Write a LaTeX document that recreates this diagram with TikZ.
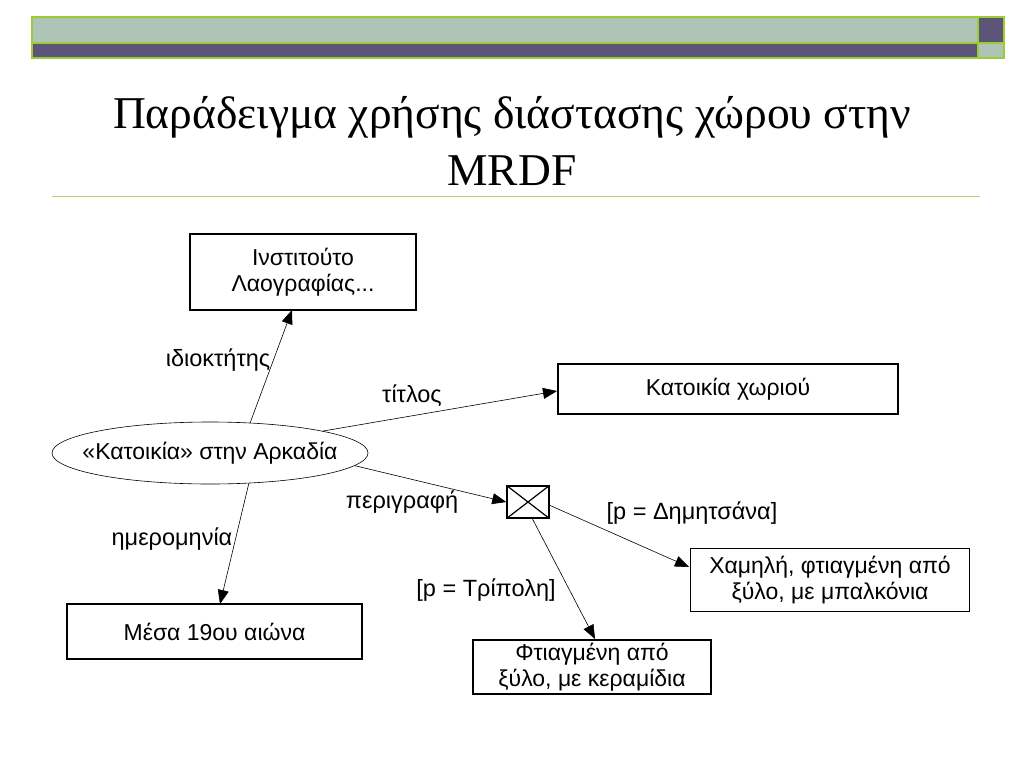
\documentclass[tikz,border=0pt]{standalone}
\usepackage{fontspec}
\setmainfont{Liberation Serif}
\newfontfamily\diagfont{Liberation Sans}
\usetikzlibrary{shapes.geometric,arrows.meta}
\definecolor{bannerlight}{HTML}{AFC4B7}
\definecolor{bannerdark}{HTML}{5C5479}
\definecolor{bannergreen}{HTML}{9ACD32}
\definecolor{rulegreen}{HTML}{B5D56A}
\begin{document}
\begin{tikzpicture}[x=1pt,y=-1pt,
  box/.style={draw,line width=1.3pt,minimum width=#1,inner sep=0pt,align=center,font=\diagfont\fontsize{23}{26}\selectfont},
  lbl/.style={font=\diagfont\fontsize{23.5}{28}\selectfont,inner sep=0pt},
  conn/.style={line width=0.6pt,-{Triangle[length=14pt,width=11pt]}},
  ttl/.style={font=\fontsize{45.5}{58}\selectfont,inner sep=0pt,anchor=base}]
\useasboundingbox (0,0) rectangle (1024,768);
% banner
\fill[bannerlight] (32,17) rectangle (978,43);
\fill[bannerdark] (978,17) rectangle (1004,43);
\fill[bannerdark] (32,43) rectangle (978,58);
\fill[bannerlight] (978,43) rectangle (1004,58);
\draw[bannergreen,line width=1.2pt] (32,17) rectangle (1004,58);
\draw[bannergreen,line width=1.2pt] (32,43) -- (1004,43);
\draw[bannergreen,line width=1.2pt] (978,17) -- (978,58);
% title
\node[ttl] (title1) at (512,128) {Παράδειγμα χρήσης διάστασης χώρου στην};
\node[ttl] (title2) at (512,185) {MRDF};
\draw[rulegreen,line width=1pt] (52,196) -- (980,196);
% nodes
\node[box=226pt,minimum height=76pt] (inst) at (303,272) {Ινστιτούτο\\Λαογραφίας...};
\node[box=340pt,minimum height=50pt] (vill) at (728,389) {Κατοικία χωριού};
\node[draw,ellipse,line width=0.6pt,minimum width=316pt,minimum height=62pt,inner sep=0pt,font=\diagfont\fontsize{23}{28}\selectfont] (ell) at (210,453) {\makebox[0pt]{«Κατοικία» στην Αρκαδία}};
\node[draw,line width=1.5pt,minimum width=42pt,minimum height=32pt,inner sep=0pt] (cross) at (528,502) {};
\draw[line width=1.2pt] (cross.north west) -- (cross.south east) (cross.south west) -- (cross.north east);
\node[box=279pt,minimum height=63pt] (low) at (830,580) {Χαμηλή, φτιαγμένη από\\ξύλο, με μπαλκόνια};
\node[box=238pt,minimum height=54pt] (wood) at (592,667) {Φτιαγμένη από\\ξύλο, με κεραμίδια};
\node[box=295pt,minimum height=55pt] (mid) at (214.5,631.5) {Μέσα 19ου αιώνα};
% connectors
\coordinate (tinst) at (292,310);
\coordinate (tvill) at (557,391);
\coordinate (tlow) at (689,567);
\coordinate (twood) at (595,639);
\coordinate (tmid) at (220,604);
\coordinate (scross) at (549,505);
\coordinate (bcross) at (532,518);
\draw[conn] (ell.37) -- (tinst);
\draw[conn] (ell.11) -- (tvill);
\draw[conn] (ell.-5.6) -- (cross.west);
\draw[conn] (ell.-38.7) -- (tmid);
\draw[conn] (scross) -- (tlow);
\draw[conn] (bcross) -- (twood);
% labels
\node[lbl] (l1) at (218,360) {ιδιοκτήτης};
\node[lbl] (l2) at (412,396) {τίτλος};
\node[lbl] (l3) at (402,502) {περιγραφή};
\node[lbl] (l4) at (172,539) {ημερομηνία};
\node[lbl] (l5) at (692,513) {[p = Δημητσάνα]};
\node[lbl] (l6) at (486,590) {[p = Τρίπολη]};
\end{tikzpicture}
\end{document}
